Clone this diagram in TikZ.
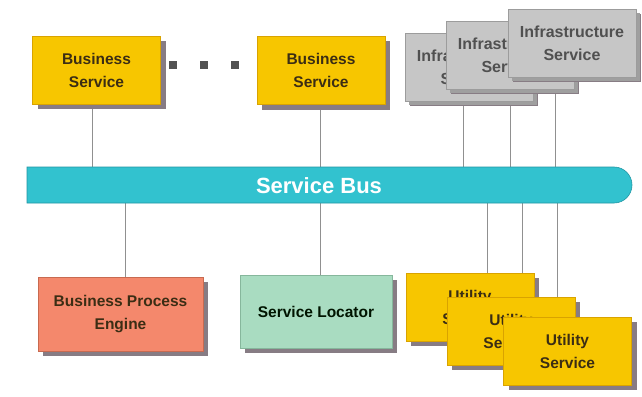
\documentclass[tikz,border=0pt]{standalone}
\usepackage{fontspec}
\setmainfont{Liberation Sans}
\usetikzlibrary{shapes.misc,shadows,calc}
\pgfdeclarelayer{background}
\pgfsetlayers{background,main}
\definecolor{yel}{HTML}{F7C600}
\definecolor{yelb}{HTML}{D9A300}
\definecolor{shad}{HTML}{877C84}
\definecolor{gbox}{HTML}{C6C6C6}
\definecolor{gboxb}{HTML}{9C9C9C}
\definecolor{gtext}{HTML}{505050}
\definecolor{salm}{HTML}{F4886C}
\definecolor{salmb}{HTML}{C86A50}
\definecolor{mint}{HTML}{A9DCC1}
\definecolor{mintb}{HTML}{86B79C}
\definecolor{btext}{HTML}{3B2D14}
\definecolor{busc}{HTML}{32C2CF}
\definecolor{busb}{HTML}{2196A4}
\definecolor{conn}{HTML}{909090}
\tikzset{
  boxbase/.style={rectangle, inner sep=0pt, align=center,
    font=\fontsize{15.5}{23}\selectfont\bfseries, text=btext,
    line width=0.6pt,
    drop shadow={shadow xshift=5pt, shadow yshift=-5pt, fill=shad, opacity=1}},
  yelbox/.style={boxbase, fill=yel, draw=yelb, minimum width=128pt, minimum height=68pt},
  infbox/.style={boxbase, fill=gbox, draw=gboxb, text=gtext,
    font=\fontsize{16}{23}\selectfont\bfseries,
    minimum width=128pt, minimum height=68pt,
    drop shadow={shadow xshift=4pt, shadow yshift=-4pt, fill=gray!75, opacity=1}},
  conline/.style={draw=conn, line width=0.8pt},
  dotsq/.style={rectangle, fill=black!68, minimum size=8pt, inner sep=0pt},
}
\begin{document}
\begin{tikzpicture}[x=1pt,y=-1pt]
\useasboundingbox (0,0) rectangle (642,396);

% service bus
\node[rounded rectangle, rounded rectangle west arc=none, fill=busc, draw=busb,
  line width=0.6pt, minimum width=605pt, minimum height=36pt, inner sep=0pt]
  (bus) at (329.5,185) {};
\node[font=\fontsize{22}{24}\selectfont\bfseries, text=white] (busl) at (319,186) {Service Bus};

% top row
\node[yelbox] (bs1) at (96.5,70) {Business\\Service};
\node[yelbox] (bs2) at (321,70.5) {Business\\Service};
\node[dotsq] (d1) at (173,65) {};
\node[dotsq] (d2) at (204,65) {};
\node[dotsq] (d3) at (235,65) {};

\node[infbox] (inf1) at (469,67) {Infrastructure\\Service};
\node[infbox] (inf2) at (510,55) {Infrastructure\\Service};
\node[infbox] (inf3) at (572,43) {Infrastructure\\Service};

% bottom row
\node[boxbase, fill=salm, draw=salmb, minimum width=165pt, minimum height=74pt]
  (bpe) at (120.5,314) {Business Process\\Engine};
\node[boxbase, fill=mint, draw=mintb, text=black!80!green!40!black, minimum width=152pt, minimum height=73pt]
  (sl) at (316,311.5) {Service Locator};

\node[yelbox] (u1) at (470,307) {Utility\\Service};
\node[yelbox] (u2) at (511,331) {Utility\\Service};
\node[yelbox] (u3) at (567.5,351) {Utility\\Service};

\begin{pgfonlayer}{background}
\fill[white] (0,0) rectangle (642,396);
\draw[conline] ([xshift=-4.5pt]bs1.south) -- ([xshift=-4.5pt]bs1.south |- bus.north);
\draw[conline] ([xshift=-1pt]bs2.south) -- ([xshift=-1pt]bs2.south |- bus.north);
\draw[conline] ([xshift=-6pt]inf1.south) -- ([xshift=-6pt]inf1.south |- bus.north);
\draw[conline] (inf2.south) -- (inf2.south |- bus.north);
\draw[conline] ([xshift=-17pt]inf3.south) -- ([xshift=-17pt]inf3.south |- bus.north);
\draw[conline] ([xshift=4.5pt]bpe.north) -- ([xshift=4.5pt]bpe.north |- bus.south);
\draw[conline] ([xshift=4pt]sl.north) -- ([xshift=4pt]sl.north |- bus.south);
\draw[conline] ([xshift=17pt]u1.north) -- ([xshift=17pt]u1.north |- bus.south);
\draw[conline] ([xshift=11pt]u2.north) -- ([xshift=11pt]u2.north |- bus.south);
\draw[conline] ([xshift=-10.5pt]u3.north) -- ([xshift=-10.5pt]u3.north |- bus.south);
\end{pgfonlayer}
\end{tikzpicture}
\end{document}
